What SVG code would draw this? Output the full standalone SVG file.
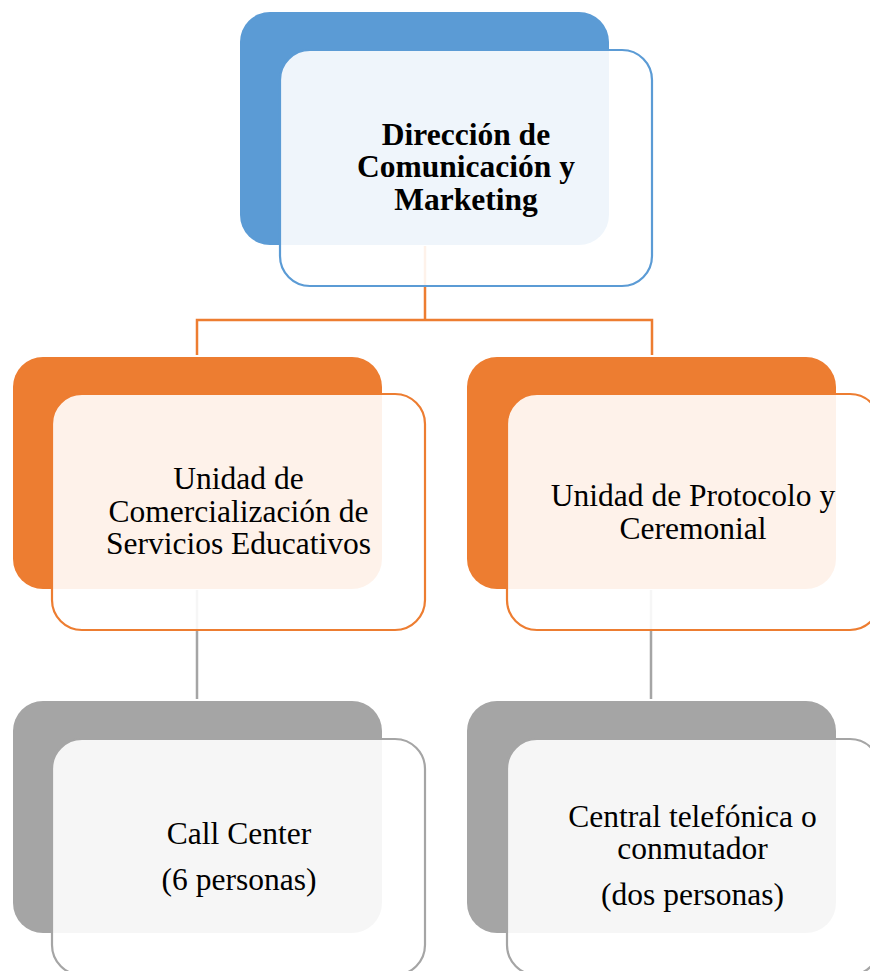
<svg xmlns="http://www.w3.org/2000/svg" width="870" height="971" viewBox="0 0 870 971">
  <style>
    .back { stroke: none; }
    .front { fill: #ffffff; fill-opacity: 0.9; stroke-width: 2.2; }
    .blue .back { fill: #5B9BD5; }
    .blue .front { stroke: #5B9BD5; }
    .orange .back { fill: #ED7D31; }
    .orange .front { stroke: #ED7D31; }
    .gray .back { fill: #A5A5A5; }
    .gray .front { stroke: #A5A5A5; }
    .label { font-family: "Liberation Serif", "Times New Roman", serif; font-size: 31.5px; fill: #000; text-anchor: middle; }
    .bold { font-weight: bold; }
    .conn { fill: none; stroke-width: 2.5; }
  </style>

  <!-- connectors (drawn first so the translucent card faces soften them) -->
  <g id="connectors">
    <path class="conn" stroke="#ED7D31" d="M425 246 V320 M197 355 V320 H652 V355"/>
    <path class="conn" stroke="#A5A5A5" d="M197 590 V699 M651 590 V699"/>
  </g>

  <!-- top level -->
  <g id="node-direccion" class="blue">
    <rect class="back" x="240" y="12" width="369" height="233" rx="30"/>
    <rect class="front" x="280" y="50" width="372" height="236" rx="30"/>
    <text class="label bold" x="466" y="145">Dirección de</text>
    <text class="label bold" x="466" y="177">Comunicación y</text>
    <text class="label bold" x="466" y="210">Marketing</text>
  </g>

  <!-- second level -->
  <g id="node-comercializacion" class="orange">
    <rect class="back" x="13" y="357" width="369" height="232" rx="30"/>
    <rect class="front" x="52" y="394" width="373" height="236" rx="30"/>
    <text class="label" x="238.5" y="489">Unidad de</text>
    <text class="label" x="238.5" y="522">Comercialización de</text>
    <text class="label" x="238.5" y="554">Servicios Educativos</text>
  </g>

  <g id="node-protocolo" class="orange">
    <rect class="back" x="467" y="357" width="369" height="232" rx="30"/>
    <rect class="front" x="507" y="394" width="373" height="236" rx="30"/>
    <text class="label" x="693" y="506">Unidad de Protocolo y</text>
    <text class="label" x="693" y="539">Ceremonial</text>
  </g>

  <!-- third level -->
  <g id="node-callcenter" class="gray">
    <rect class="back" x="13" y="701" width="369" height="232" rx="30"/>
    <rect class="front" x="52" y="739" width="373" height="236" rx="30"/>
    <text class="label" x="239" y="844">Call Center</text>
    <text class="label" x="239" y="890">(6 personas)</text>
  </g>

  <g id="node-central" class="gray">
    <rect class="back" x="467" y="701" width="369" height="232" rx="30"/>
    <rect class="front" x="507" y="739" width="373" height="236" rx="30"/>
    <text class="label" x="692.5" y="827">Central telefónica o</text>
    <text class="label" x="692.5" y="859">conmutador</text>
    <text class="label" x="692.5" y="905">(dos personas)</text>
  </g>
</svg>
